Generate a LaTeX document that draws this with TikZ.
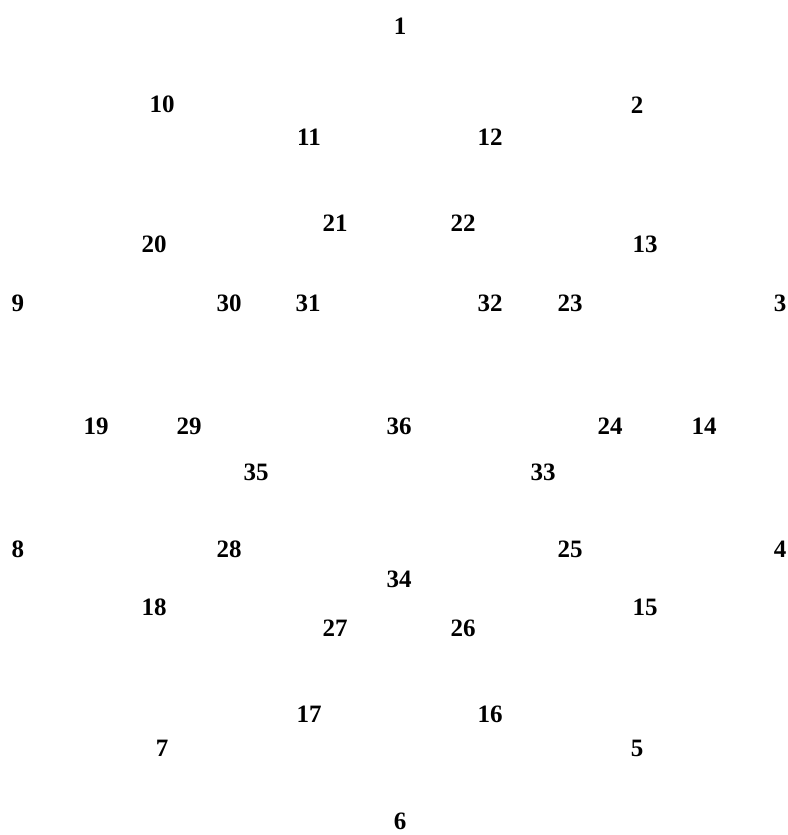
\documentclass[tikz,border=0pt]{standalone}
\usepackage{fontspec}
\setmainfont{Liberation Serif}
\usepackage{tikz}

\begin{document}
\begin{tikzpicture}[x=1pt, y=-1pt,
    lbl/.style={inner sep=0pt, font=\fontsize{25}{25}\selectfont\bfseries}]
  \useasboundingbox (0,0) rectangle (787,835);
  % outer ring
  \node[lbl] (n1) at (400,26) {1};
  \node[lbl] (n2) at (637,105) {2};
  \node[lbl] (n3) at (780,303) {3};
  \node[lbl] (n4) at (780,549) {4};
  \node[lbl] (n5) at (637,748) {5};
  \node[lbl] (n6) at (400,821) {6};
  \node[lbl] (n7) at (162,748) {7};
  \node[lbl] (n8) at (18,549) {8};
  \node[lbl] (n9) at (18,303) {9};
  \node[lbl] (n10) at (162,104) {10};
  % second ring
  \node[lbl] (n11) at (309,137) {11};
  \node[lbl] (n12) at (490,137) {12};
  \node[lbl] (n13) at (645,244) {13};
  \node[lbl] (n14) at (704,426) {14};
  \node[lbl] (n15) at (645,607) {15};
  \node[lbl] (n16) at (490,714) {16};
  \node[lbl] (n17) at (309,714) {17};
  \node[lbl] (n18) at (154,607) {18};
  \node[lbl] (n19) at (96,426) {19};
  \node[lbl] (n20) at (154,244) {20};
  % third ring
  \node[lbl] (n21) at (335,223) {21};
  \node[lbl] (n22) at (463,223) {22};
  \node[lbl] (n23) at (570,303) {23};
  \node[lbl] (n24) at (610,426) {24};
  \node[lbl] (n25) at (570,549) {25};
  \node[lbl] (n26) at (463,628) {26};
  \node[lbl] (n27) at (335,628) {27};
  \node[lbl] (n28) at (229,549) {28};
  \node[lbl] (n29) at (189,426) {29};
  \node[lbl] (n30) at (229,303) {30};
  % inner ring
  \node[lbl] (n31) at (308,303) {31};
  \node[lbl] (n32) at (490,303) {32};
  \node[lbl] (n33) at (543,472) {33};
  \node[lbl] (n34) at (399,579) {34};
  \node[lbl] (n35) at (256,472) {35};
  \node[lbl] (n36) at (399,426) {36};
\end{tikzpicture}
\end{document}
